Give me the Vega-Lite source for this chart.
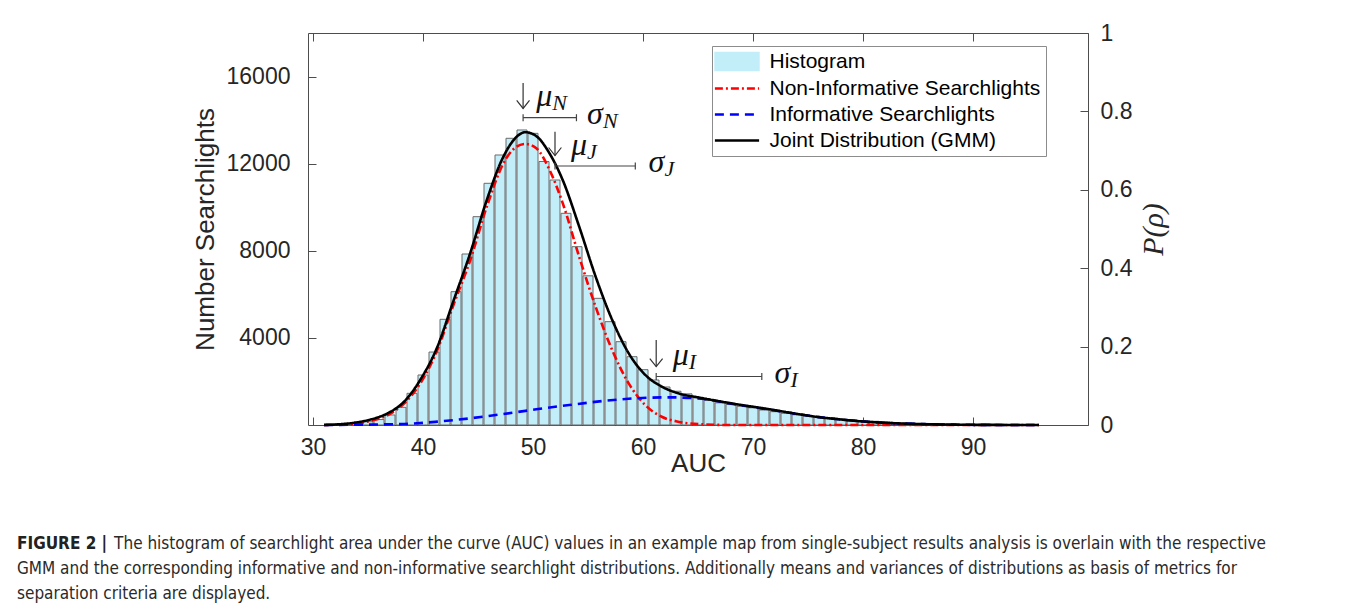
{
  "$schema": "https://vega.github.io/schema/vega-lite/v6.json",
  "width": 780,
  "height": 392,
  "autosize": {"type": "none"},
  "padding": {"left": 308, "top": 33, "right": 269, "bottom": 183},
  "background": "white",
  "config": {
    "view": {"stroke": "#4d4d4d", "strokeWidth": 1},
    "font": "Liberation Sans",
    "axis": {
      "grid": false,
      "labelFont": "Liberation Sans",
      "labelFontSize": 23,
      "labelColor": "#262626",
      "titleFont": "Liberation Sans",
      "titleFontSize": 26,
      "titleFontWeight": "normal",
      "titleColor": "#262626",
      "tickColor": "#4d4d4d",
      "domainColor": "#4d4d4d",
      "tickSize": -8,
      "domain": false,
      "zindex": 1
    }
  },
  "title": {
    "text": "FIGURE 2 |",
    "subtitle": [
      "\u200b\u00a0\u00a0\u00a0\u00a0\u00a0\u00a0\u00a0\u00a0\u00a0\u00a0\u00a0\u00a0\u00a0\u00a0\u00a0\u00a0\u00a0\u00a0\u00a0\u00a0The histogram of searchlight area under the curve (AUC) values in an example map from single-subject results analysis is overlain with the respective",
      "GMM and the corresponding informative and non-informative searchlight distributions. Additionally means and variances of distributions as basis of metrics for",
      "separation criteria are displayed."
    ],
    "orient": "bottom",
    "anchor": "start",
    "frame": "group",
    "dx": -291,
    "offset": 60,
    "font": "DejaVu Sans Condensed",
    "fontSize": 17,
    "fontWeight": "bold",
    "color": "#222222",
    "lineHeight": 25,
    "subtitleFont": "DejaVu Sans Condensed",
    "subtitleFontSize": 17,
    "subtitleColor": "#2a2a2a",
    "subtitleLineHeight": 25,
    "subtitlePadding": -17
  },
  "datasets": {
    "hist": [
      {"auc": 32, "count": 20}, {"auc": 33, "count": 40}, {"auc": 34, "count": 80}, {"auc": 35, "count": 150},
      {"auc": 36, "count": 250}, {"auc": 37, "count": 460}, {"auc": 38, "count": 812}, {"auc": 39, "count": 1455},
      {"auc": 40, "count": 2296}, {"auc": 41, "count": 3350}, {"auc": 42, "count": 4853}, {"auc": 43, "count": 6122},
      {"auc": 44, "count": 7852}, {"auc": 45, "count": 9566}, {"auc": 46, "count": 11098}, {"auc": 47, "count": 12398},
      {"auc": 48, "count": 13165}, {"auc": 49, "count": 13546}, {"auc": 50, "count": 13393}, {"auc": 51, "count": 12100},
      {"auc": 52, "count": 11250}, {"auc": 53, "count": 9720}, {"auc": 54, "count": 8188}, {"auc": 55, "count": 6850},
      {"auc": 56, "count": 5817}, {"auc": 57, "count": 4745}, {"auc": 58, "count": 3826}, {"auc": 59, "count": 3137},
      {"auc": 60, "count": 2540}, {"auc": 61, "count": 2066}, {"auc": 62, "count": 1745}, {"auc": 63, "count": 1550},
      {"auc": 64, "count": 1430}, {"auc": 65, "count": 1255}, {"auc": 66, "count": 1125}, {"auc": 67, "count": 1018},
      {"auc": 68, "count": 941}, {"auc": 69, "count": 857}, {"auc": 70, "count": 790}, {"auc": 71, "count": 689},
      {"auc": 72, "count": 612}, {"auc": 73, "count": 536}, {"auc": 74, "count": 470}, {"auc": 75, "count": 420},
      {"auc": 76, "count": 370}, {"auc": 77, "count": 320}, {"auc": 78, "count": 280}, {"auc": 79, "count": 240},
      {"auc": 80, "count": 200}, {"auc": 81, "count": 170}, {"auc": 82, "count": 140}, {"auc": 83, "count": 110},
      {"auc": 84, "count": 90}, {"auc": 85, "count": 70}, {"auc": 86, "count": 55}, {"auc": 87, "count": 45},
      {"auc": 88, "count": 35}, {"auc": 89, "count": 25}, {"auc": 90, "count": 20}, {"auc": 91, "count": 15},
      {"auc": 92, "count": 10}, {"auc": 93, "count": 8}, {"auc": 94, "count": 5}, {"auc": 95, "count": 3}
    ],
    "curves": [
      {"series": "Non-Informative Searchlights", "auc": 31, "p": 0},
      {"series": "Non-Informative Searchlights", "auc": 33.8, "p": 0.004},
      {"series": "Non-Informative Searchlights", "auc": 35.3, "p": 0.011},
      {"series": "Non-Informative Searchlights", "auc": 36.8, "p": 0.0255},
      {"series": "Non-Informative Searchlights", "auc": 38.3, "p": 0.0553},
      {"series": "Non-Informative Searchlights", "auc": 39.75, "p": 0.106},
      {"series": "Non-Informative Searchlights", "auc": 41.3, "p": 0.191},
      {"series": "Non-Informative Searchlights", "auc": 42.7, "p": 0.301},
      {"series": "Non-Informative Searchlights", "auc": 44.3, "p": 0.421},
      {"series": "Non-Informative Searchlights", "auc": 45.8, "p": 0.557},
      {"series": "Non-Informative Searchlights", "auc": 47.3, "p": 0.667},
      {"series": "Non-Informative Searchlights", "auc": 48.5, "p": 0.71},
      {"series": "Non-Informative Searchlights", "auc": 49.3, "p": 0.717},
      {"series": "Non-Informative Searchlights", "auc": 50.3, "p": 0.706},
      {"series": "Non-Informative Searchlights", "auc": 51.5, "p": 0.651},
      {"series": "Non-Informative Searchlights", "auc": 52.7, "p": 0.566},
      {"series": "Non-Informative Searchlights", "auc": 54.2, "p": 0.429},
      {"series": "Non-Informative Searchlights", "auc": 55.7, "p": 0.301},
      {"series": "Non-Informative Searchlights", "auc": 57.2, "p": 0.191},
      {"series": "Non-Informative Searchlights", "auc": 58.7, "p": 0.106},
      {"series": "Non-Informative Searchlights", "auc": 60.2, "p": 0.051},
      {"series": "Non-Informative Searchlights", "auc": 61.7, "p": 0.021},
      {"series": "Non-Informative Searchlights", "auc": 63.2, "p": 0.0085},
      {"series": "Non-Informative Searchlights", "auc": 65.3, "p": 0.002},
      {"series": "Non-Informative Searchlights", "auc": 68, "p": 0},
      {"series": "Non-Informative Searchlights", "auc": 75, "p": 0},
      {"series": "Non-Informative Searchlights", "auc": 85, "p": 0},
      {"series": "Non-Informative Searchlights", "auc": 96, "p": 0},
      {"series": "Informative Searchlights", "auc": 31, "p": 0},
      {"series": "Informative Searchlights", "auc": 35, "p": 0.001},
      {"series": "Informative Searchlights", "auc": 38.3, "p": 0.0026},
      {"series": "Informative Searchlights", "auc": 41.3, "p": 0.0085},
      {"series": "Informative Searchlights", "auc": 44.3, "p": 0.0171},
      {"series": "Informative Searchlights", "auc": 47.3, "p": 0.028},
      {"series": "Informative Searchlights", "auc": 50.3, "p": 0.04},
      {"series": "Informative Searchlights", "auc": 53.3, "p": 0.051},
      {"series": "Informative Searchlights", "auc": 56.3, "p": 0.061},
      {"series": "Informative Searchlights", "auc": 59.3, "p": 0.068},
      {"series": "Informative Searchlights", "auc": 62.3, "p": 0.0706},
      {"series": "Informative Searchlights", "auc": 65.3, "p": 0.067},
      {"series": "Informative Searchlights", "auc": 68.3, "p": 0.053},
      {"series": "Informative Searchlights", "auc": 71.3, "p": 0.04},
      {"series": "Informative Searchlights", "auc": 74.3, "p": 0.027},
      {"series": "Informative Searchlights", "auc": 76, "p": 0.02},
      {"series": "Informative Searchlights", "auc": 78, "p": 0.014},
      {"series": "Informative Searchlights", "auc": 80, "p": 0.009},
      {"series": "Informative Searchlights", "auc": 82, "p": 0.0056},
      {"series": "Informative Searchlights", "auc": 85, "p": 0.0026},
      {"series": "Informative Searchlights", "auc": 88, "p": 0.001},
      {"series": "Informative Searchlights", "auc": 92, "p": 0.0002},
      {"series": "Informative Searchlights", "auc": 96, "p": 0},
      {"series": "Joint Distribution (GMM)", "auc": 31, "p": 0},
      {"series": "Joint Distribution (GMM)", "auc": 33.8, "p": 0.006},
      {"series": "Joint Distribution (GMM)", "auc": 35.3, "p": 0.0145},
      {"series": "Joint Distribution (GMM)", "auc": 36.8, "p": 0.03},
      {"series": "Joint Distribution (GMM)", "auc": 38.3, "p": 0.06},
      {"series": "Joint Distribution (GMM)", "auc": 39.75, "p": 0.115},
      {"series": "Joint Distribution (GMM)", "auc": 41.3, "p": 0.199},
      {"series": "Joint Distribution (GMM)", "auc": 42.7, "p": 0.311},
      {"series": "Joint Distribution (GMM)", "auc": 44.3, "p": 0.439},
      {"series": "Joint Distribution (GMM)", "auc": 45.8, "p": 0.574},
      {"series": "Joint Distribution (GMM)", "auc": 47.3, "p": 0.684},
      {"series": "Joint Distribution (GMM)", "auc": 48.5, "p": 0.735},
      {"series": "Joint Distribution (GMM)", "auc": 49.3, "p": 0.747},
      {"series": "Joint Distribution (GMM)", "auc": 50.3, "p": 0.737},
      {"series": "Joint Distribution (GMM)", "auc": 51.5, "p": 0.693},
      {"series": "Joint Distribution (GMM)", "auc": 52.7, "p": 0.625},
      {"series": "Joint Distribution (GMM)", "auc": 54.2, "p": 0.506},
      {"series": "Joint Distribution (GMM)", "auc": 55.7, "p": 0.378},
      {"series": "Joint Distribution (GMM)", "auc": 57.2, "p": 0.268},
      {"series": "Joint Distribution (GMM)", "auc": 58.7, "p": 0.183},
      {"series": "Joint Distribution (GMM)", "auc": 60.2, "p": 0.128},
      {"series": "Joint Distribution (GMM)", "auc": 61.7, "p": 0.098},
      {"series": "Joint Distribution (GMM)", "auc": 63.2, "p": 0.081},
      {"series": "Joint Distribution (GMM)", "auc": 65.3, "p": 0.069},
      {"series": "Joint Distribution (GMM)", "auc": 68.3, "p": 0.054},
      {"series": "Joint Distribution (GMM)", "auc": 71.3, "p": 0.041},
      {"series": "Joint Distribution (GMM)", "auc": 74.3, "p": 0.027},
      {"series": "Joint Distribution (GMM)", "auc": 76, "p": 0.02},
      {"series": "Joint Distribution (GMM)", "auc": 78, "p": 0.014},
      {"series": "Joint Distribution (GMM)", "auc": 80, "p": 0.009},
      {"series": "Joint Distribution (GMM)", "auc": 82, "p": 0.0056},
      {"series": "Joint Distribution (GMM)", "auc": 85, "p": 0.0026},
      {"series": "Joint Distribution (GMM)", "auc": 88, "p": 0.001},
      {"series": "Joint Distribution (GMM)", "auc": 92, "p": 0.0002},
      {"series": "Joint Distribution (GMM)", "auc": 96, "p": 0}
    ],
    "arrows": [
      {"auc": 49.1, "top": 0.8724, "tip": 0.8074},
      {"auc": 52.0, "top": 0.7482, "tip": 0.6875},
      {"auc": 61.2, "top": 0.2168, "tip": 0.1492}
    ],
    "sigmas": [
      {"from": 49.1, "to": 53.95, "p": 0.7839},
      {"from": 52.0, "to": 59.3, "p": 0.6607},
      {"from": 61.2, "to": 70.8, "p": 0.1237}
    ],
    "labels": [
      {"sym": "μ", "sub": "N", "auc": 50.3, "p": 0.8138},
      {"sym": "σ", "sub": "N", "auc": 54.9, "p": 0.7679},
      {"sym": "μ", "sub": "J", "auc": 53.45, "p": 0.6888},
      {"sym": "σ", "sub": "J", "auc": 60.5, "p": 0.6454},
      {"sym": "μ", "sub": "I", "auc": 62.7, "p": 0.1531},
      {"sym": "σ", "sub": "I", "auc": 71.95, "p": 0.1071}
    ]
  },
  "layer": [
    {
      "data": {"name": "hist"},
      "mark": {"type": "bar", "width": 10, "fill": "#c2eef9", "stroke": "#6b6b6b", "strokeWidth": 1},
      "encoding": {
        "x": {
          "field": "auc", "type": "quantitative",
          "scale": {"domain": [30, 100], "nice": false, "zero": false},
          "axis": {"orient": "bottom", "values": [30, 40, 50, 60, 70, 80, 90], "format": "d", "title": "AUC", "labelPadding": 19, "titlePadding": -9}
        },
        "y": {
          "field": "count", "type": "quantitative",
          "scale": {"domain": [0, 18000], "nice": false},
          "axis": {"orient": "left", "values": [4000, 8000, 12000, 16000], "format": "d", "title": "Number Searchlights", "labelPadding": 26, "titlePadding": 8}
        }
      }
    },
    {
      "layer": [
        {
          "data": {"name": "curves"},
          "mark": {"type": "line", "interpolate": "monotone", "strokeWidth": 2.6},
          "encoding": {
            "x": {
              "field": "auc", "type": "quantitative",
              "axis": {"orient": "top", "values": [30, 40, 50, 60, 70, 80, 90], "labels": false, "title": null}
            },
            "y": {
              "field": "p", "type": "quantitative",
              "scale": {"domain": [0, 1], "nice": false},
              "axis": {"orient": "right", "values": [0, 0.2, 0.4, 0.6, 0.8, 1], "format": "~g", "title": "P(ρ)", "titleFont": "Liberation Serif", "titleFontStyle": "italic", "titleFontSize": 30, "titleAngle": -90, "labelPadding": 20, "titlePadding": 37}
            },
            "color": {
              "field": "series", "type": "nominal",
              "scale": {
                "domain": ["Histogram", "Non-Informative Searchlights", "Informative Searchlights", "Joint Distribution (GMM)"],
                "range": ["#c2eef9", "#ff0000", "#0000ff", "#000000"]
              },
              "legend": {
                "orient": "none", "legendX": 404, "legendY": 13,
                "title": null,
                "labelFont": "Liberation Sans", "labelFontSize": 21, "labelColor": "#000000", "labelLimit": 600,
                "symbolSize": 676, "symbolOffset": 9.5, "labelOffset": 22,
                "rowPadding": 4, "padding": 5,
                "strokeColor": "#8c8c8c", "fillColor": "white",
                "encode": {
                  "symbols": {
                    "update": {
                      "shape": {"signal": "datum.value === 'Histogram' ? 'M-1.7,-0.7H1.7V0.7H-1.7Z' : 'M-1.7,0H1.7'"},
                      "fill": {"signal": "datum.value === 'Histogram' ? '#c2eef9' : 'transparent'"},
                      "stroke": {"signal": "datum.value === 'Histogram' ? '#6b6b6b' : scale('color', datum.value)"},
                      "strokeWidth": {"signal": "datum.value === 'Histogram' ? 1.2 : 2.6"},
                      "strokeDash": {"signal": "scale('strokeDash', datum.value)"},
                      "opacity": {"value": 1}
                    }
                  }
                }
              }
            },
            "strokeDash": {
              "field": "series", "type": "nominal",
              "scale": {
                "domain": ["Histogram", "Non-Informative Searchlights", "Informative Searchlights", "Joint Distribution (GMM)"],
                "range": [[1, 0], [8, 3, 2, 3], [9, 6], [1, 0]]
              },
              "legend": null
            }
          }
        },
        {
          "data": {"name": "arrows"},
          "mark": {"type": "rule", "stroke": "#333333", "strokeWidth": 1.2},
          "encoding": {
            "x": {"field": "auc", "type": "quantitative", "axis": {"orient": "top", "values": [30, 40, 50, 60, 70, 80, 90], "labels": false, "title": null}},
            "y": {"field": "top", "type": "quantitative", "axis": {"orient": "right", "values": [0, 0.2, 0.4, 0.6, 0.8, 1], "format": "~g", "title": "P(ρ)", "titleFont": "Liberation Serif", "titleFontStyle": "italic", "titleFontSize": 30, "titleAngle": -90, "labelPadding": 20, "titlePadding": 37}},
            "y2": {"field": "tip"}
          }
        },
        {
          "data": {"name": "arrows"},
          "mark": {"type": "point", "shape": "M-0.8,-1L0,0L0.8,-1", "size": 256, "filled": false, "stroke": "#333333", "strokeWidth": 1.2, "opacity": 1},
          "encoding": {
            "x": {"field": "auc", "type": "quantitative", "axis": {"orient": "top", "values": [30, 40, 50, 60, 70, 80, 90], "labels": false, "title": null}},
            "y": {"field": "tip", "type": "quantitative", "axis": {"orient": "right", "values": [0, 0.2, 0.4, 0.6, 0.8, 1], "format": "~g", "title": "P(ρ)", "titleFont": "Liberation Serif", "titleFontStyle": "italic", "titleFontSize": 30, "titleAngle": -90, "labelPadding": 20, "titlePadding": 37}}
          }
        },
        {
          "data": {"name": "sigmas"},
          "mark": {"type": "rule", "stroke": "#444444", "strokeWidth": 1.2},
          "encoding": {
            "x": {"field": "from", "type": "quantitative", "axis": {"orient": "top", "values": [30, 40, 50, 60, 70, 80, 90], "labels": false, "title": null}},
            "x2": {"field": "to"},
            "y": {"field": "p", "type": "quantitative", "axis": {"orient": "right", "values": [0, 0.2, 0.4, 0.6, 0.8, 1], "format": "~g", "title": "P(ρ)", "titleFont": "Liberation Serif", "titleFontStyle": "italic", "titleFontSize": 30, "titleAngle": -90, "labelPadding": 20, "titlePadding": 37}}
          }
        },
        {
          "data": {"name": "sigmas"},
          "mark": {"type": "point", "shape": "M0,-1L0,1", "size": 49, "filled": false, "stroke": "#444444", "strokeWidth": 1.2, "opacity": 1},
          "encoding": {
            "x": {"field": "from", "type": "quantitative", "axis": {"orient": "top", "values": [30, 40, 50, 60, 70, 80, 90], "labels": false, "title": null}},
            "y": {"field": "p", "type": "quantitative", "axis": {"orient": "right", "values": [0, 0.2, 0.4, 0.6, 0.8, 1], "format": "~g", "title": "P(ρ)", "titleFont": "Liberation Serif", "titleFontStyle": "italic", "titleFontSize": 30, "titleAngle": -90, "labelPadding": 20, "titlePadding": 37}}
          }
        },
        {
          "data": {"name": "sigmas"},
          "mark": {"type": "point", "shape": "M0,-1L0,1", "size": 49, "filled": false, "stroke": "#444444", "strokeWidth": 1.2, "opacity": 1},
          "encoding": {
            "x": {"field": "to", "type": "quantitative", "axis": {"orient": "top", "values": [30, 40, 50, 60, 70, 80, 90], "labels": false, "title": null}},
            "y": {"field": "p", "type": "quantitative", "axis": {"orient": "right", "values": [0, 0.2, 0.4, 0.6, 0.8, 1], "format": "~g", "title": "P(ρ)", "titleFont": "Liberation Serif", "titleFontStyle": "italic", "titleFontSize": 30, "titleAngle": -90, "labelPadding": 20, "titlePadding": 37}}
          }
        },
        {
          "data": {"name": "labels"},
          "mark": {"type": "text", "align": "left", "baseline": "alphabetic", "font": "Liberation Serif", "fontStyle": "italic", "fontSize": 32, "color": "#111111"},
          "encoding": {
            "x": {"field": "auc", "type": "quantitative", "axis": {"orient": "top", "values": [30, 40, 50, 60, 70, 80, 90], "labels": false, "title": null}},
            "y": {"field": "p", "type": "quantitative", "axis": {"orient": "right", "values": [0, 0.2, 0.4, 0.6, 0.8, 1], "format": "~g", "title": "P(ρ)", "titleFont": "Liberation Serif", "titleFontStyle": "italic", "titleFontSize": 30, "titleAngle": -90, "labelPadding": 20, "titlePadding": 37}},
            "text": {"field": "sym"}
          }
        },
        {
          "data": {"name": "labels"},
          "mark": {"type": "text", "align": "left", "baseline": "alphabetic", "font": "Liberation Serif", "fontStyle": "italic", "fontSize": 22, "dx": 16, "dy": 4, "color": "#111111"},
          "encoding": {
            "x": {"field": "auc", "type": "quantitative", "axis": {"orient": "top", "values": [30, 40, 50, 60, 70, 80, 90], "labels": false, "title": null}},
            "y": {"field": "p", "type": "quantitative", "axis": {"orient": "right", "values": [0, 0.2, 0.4, 0.6, 0.8, 1], "format": "~g", "title": "P(ρ)", "titleFont": "Liberation Serif", "titleFontStyle": "italic", "titleFontSize": 30, "titleAngle": -90, "labelPadding": 20, "titlePadding": 37}},
            "text": {"field": "sub"}
          }
        }
      ]
    }
  ],
  "resolve": {"scale": {"y": "independent"}}
}
